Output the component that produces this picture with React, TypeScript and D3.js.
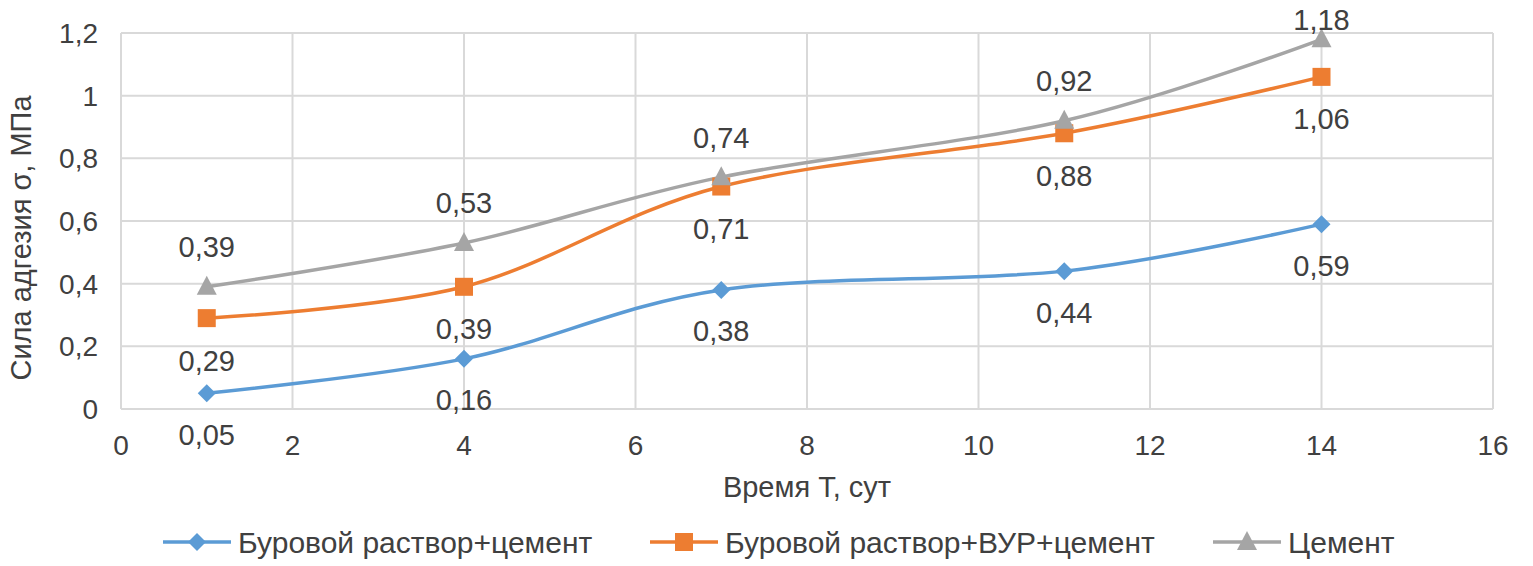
import React from 'react';
import * as d3 from 'd3';

const days = [1, 4, 7, 11, 14];
const drillCement = [0.05, 0.16, 0.38, 0.44, 0.59];
const drillVurCement = [0.29, 0.39, 0.71, 0.88, 1.06];
const cementOnly = [0.39, 0.53, 0.74, 0.92, 1.18];
const seriesNames = ['Буровой раствор+цемент', 'Буровой раствор+ВУР+цемент', 'Цемент'];
const xTicks = [0, 2, 4, 6, 8, 10, 12, 14, 16];
const yTicks = [0, 0.2, 0.4, 0.6, 0.8, 1, 1.2];

const W = 1533;
const H = 566;
const FONT = '"Liberation Sans", Arial, sans-serif';
const fmt = (v: number) => String(v).replace('.', ',');

const series = [
  { name: seriesNames[0], values: drillCement, color: '#5b9bd5', marker: 'diamond', labelDy: 41 },
  { name: seriesNames[1], values: drillVurCement, color: '#ed7d31', marker: 'square', labelDy: 42 },
  { name: seriesNames[2], values: cementOnly, color: '#a5a5a5', marker: 'triangle', labelDy: -40 },
];

const Marker = ({ kind, x, y, color }: { kind: string; x: number; y: number; color: string }) => {
  if (kind === 'diamond') {
    const s = 9;
    return <path d={`M${x},${y - s}L${x + s},${y}L${x},${y + s}L${x - s},${y}Z`} fill={color} />;
  }
  if (kind === 'square') {
    return <rect x={x - 9} y={y - 9} width={18} height={18} fill={color} />;
  }
  return <path d={`M${x},${y - 11}L${x + 10},${y + 8}L${x - 10},${y + 8}Z`} fill={color} />;
};

export default function App() {
  const x = d3.scaleLinear().domain([0, 16]).range([121, 1493]);
  const y = d3.scaleLinear().domain([0, 1.2]).range([409, 33]);

  const line = d3
    .line<number>()
    .x((_, i) => x(days[i]))
    .y((d) => y(d))
    .curve(d3.curveCardinal.tension(0));

  const legendX = [163, 650, 1213];

  return (
    <svg width={W} height={H} style={{ position: 'absolute', left: 0, top: 0, background: '#fff' }} fontFamily={FONT}>
      {/* сетка */}
      {yTicks.map((t) => (
        <line key={'gy' + t} x1={x(0)} x2={x(16)} y1={y(t)} y2={y(t)} stroke="#d9d9d9" strokeWidth={2} />
      ))}
      {xTicks.map((t) => (
        <line key={'gx' + t} x1={x(t)} x2={x(t)} y1={y(0)} y2={y(1.2)} stroke="#d9d9d9" strokeWidth={2} />
      ))}

      {/* подписи осей */}
      {yTicks.map((t) => (
        <text key={'ty' + t} x={98} y={y(t)} dy="0.36em" textAnchor="end" fontSize={28} fill="#404040">
          {fmt(t)}
        </text>
      ))}
      {xTicks.map((t) => (
        <text key={'tx' + t} x={x(t)} y={455} textAnchor="middle" fontSize={28} fill="#404040">
          {t}
        </text>
      ))}
      <text x={x(8)} y={497} textAnchor="middle" fontSize={29} fill="#404040">
        Время T, сут
      </text>
      <text
        transform={`translate(31, 238) rotate(-90)`}
        textAnchor="middle"
        fontSize={29}
        fill="#404040"
      >
        Сила адгезия σ, МПа
      </text>

      {/* линии */}
      {series.map((s) => (
        <path key={s.name} d={line(s.values) || ''} fill="none" stroke={s.color} strokeWidth={3.5} />
      ))}
      {series.map((s) =>
        s.values.map((v, i) => (
          <Marker key={s.name + i} kind={s.marker} x={x(days[i])} y={y(v)} color={s.color} />
        ))
      )}
      {series.map((s) =>
        s.values.map((v, i) => (
          <text
            key={'l' + s.name + i}
            x={x(days[i])}
            y={Math.max(20, y(v) + s.labelDy)}
            dy="0.36em"
            textAnchor="middle"
            fontSize={29}
            fill="#404040"
          >
            {fmt(v)}
          </text>
        ))
      )}

      {/* легенда */}
      {series.map((s, i) => (
        <g key={'lg' + i}>
          <line x1={legendX[i]} x2={legendX[i] + 68} y1={542} y2={542} stroke={s.color} strokeWidth={3.5} />
          <Marker kind={s.marker} x={legendX[i] + 34} y={542} color={s.color} />
          <text x={legendX[i] + 75} y={542} dy="0.36em" fontSize={30} fill="#404040">
            {s.name}
          </text>
        </g>
      ))}
    </svg>
  );
}
